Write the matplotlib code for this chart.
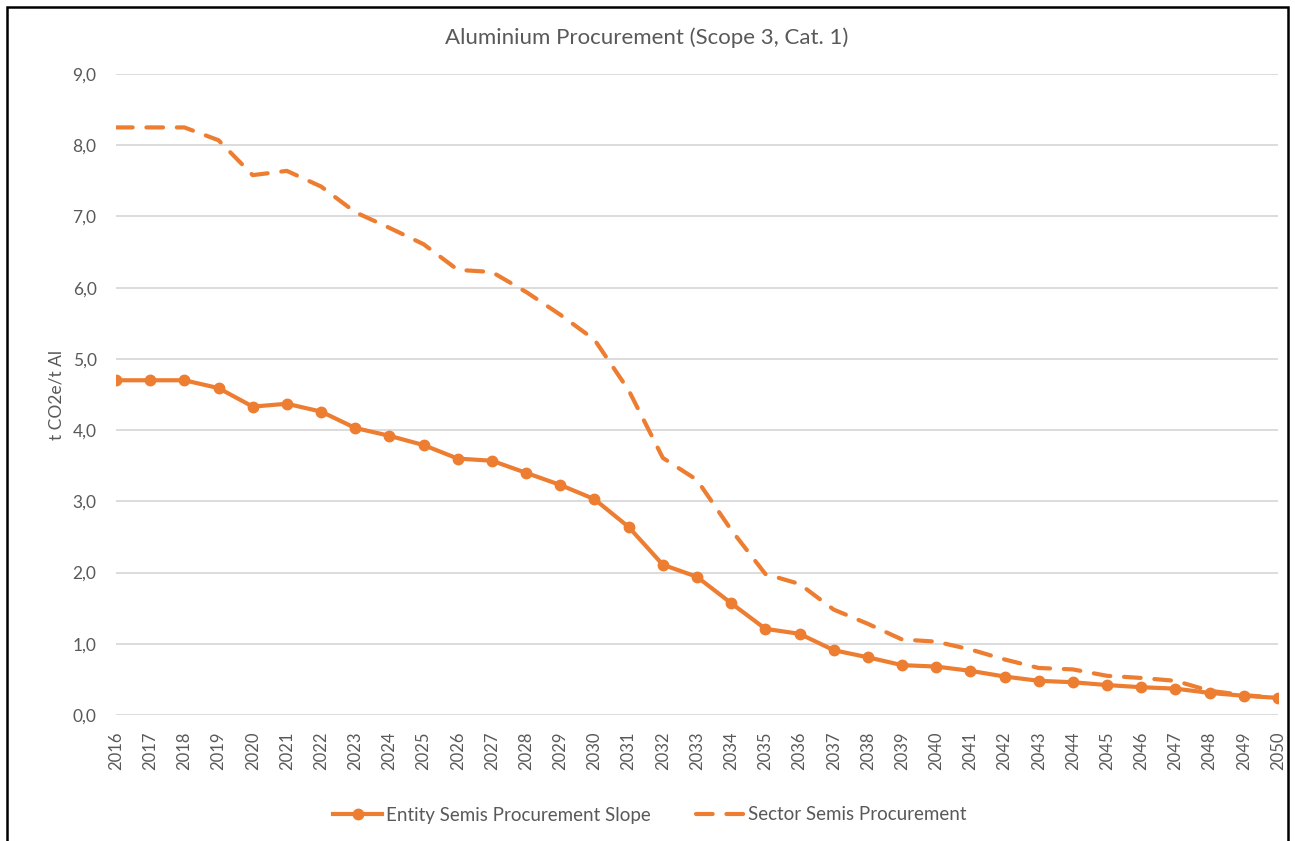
import numpy as np
import matplotlib.pyplot as plt
from matplotlib.patches import Rectangle

plt.rcParams['font.family'] = ['Lato', 'DejaVu Sans']

years = list(range(2016, 2051))
entity = [4.70, 4.70, 4.70, 4.59, 4.33, 4.37, 4.26, 4.03, 3.92, 3.79,
          3.60, 3.57, 3.40, 3.23, 3.03, 2.64, 2.11, 1.94, 1.57, 1.21,
          1.14, 0.91, 0.81, 0.70, 0.68, 0.62, 0.54, 0.48, 0.46, 0.42,
          0.39, 0.37, 0.31, 0.27, 0.24]
sector = [8.25, 8.25, 8.25, 8.07, 7.58, 7.64, 7.42, 7.06, 6.84, 6.61,
          6.25, 6.22, 5.94, 5.62, 5.27, 4.56, 3.61, 3.30, 2.60, 1.98,
          1.84, 1.48, 1.28, 1.06, 1.03, 0.92, 0.78, 0.66, 0.64, 0.55,
          0.52, 0.48, 0.34, 0.28, 0.24]

orange = '#ED7D31'
grey = '#595959'

fig = plt.figure(figsize=(12.95, 8.41), dpi=100)
ax = fig.add_axes([116/1295, 1 - 715/841, (1278-116)/1295, (715-74)/841])

ax.plot(years, entity, color=orange, linewidth=3, marker='o', markersize=7.5,
        solid_joinstyle='round', label='Entity Semis Procurement Slope', zorder=3)
ax.plot(years, sector, color=orange, linewidth=3, linestyle=(0, (4, 3.3)),
        dash_capstyle='round', label='Sector Semis Procurement', zorder=3)

ax.set_xlim(2016, 2050)
ax.set_ylim(0, 9)
ax.set_xticks(years)
ax.set_xticklabels([str(y) for y in years], rotation=90)
ax.set_yticks(np.arange(0, 10, 1))
ax.set_yticklabels([f"{v:.1f}".replace('.', ',') for v in np.arange(0, 10, 1)])
ax.tick_params(axis='x', length=0, labelsize=12, labelcolor=grey, pad=12)
ax.tick_params(axis='y', length=0, labelsize=12.5, labelcolor=grey, pad=14)

ax.grid(axis='y', color='#d9d9d9', linewidth=1.3)
ax.set_axisbelow(True)
for s in ax.spines.values():
    s.set_visible(False)

ax.set_ylabel("t CO2e/t Al", fontsize=12.5, color=grey, labelpad=6)
fig.text(647/1295, 1 - 38/841, "Aluminium Procurement (Scope 3, Cat. 1)",
         fontsize=16, color=grey, ha='center', va='center')

fig.legend(loc='center', bbox_to_anchor=(650/1295, 1 - 815/841), ncol=2,
           frameon=False, fontsize=13.5, labelcolor=grey, handlelength=2.6,
           columnspacing=2.4, handletextpad=0.2)

fig.patches.append(Rectangle((7/1295, -0.05), (1288-7)/1295, 1.05 - 7/841,
                             transform=fig.transFigure, fill=False,
                             edgecolor='black', linewidth=1.8))

plt.savefig("out.png", dpi=100)
